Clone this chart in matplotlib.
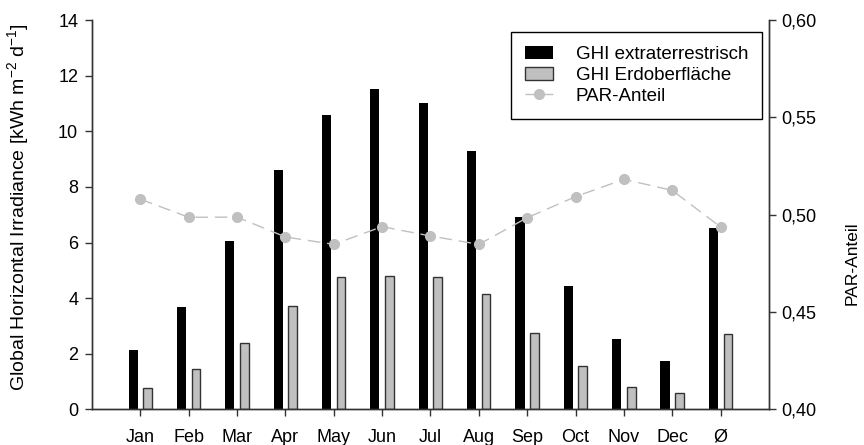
import matplotlib.pyplot as plt
import numpy as np
from matplotlib.ticker import FuncFormatter

plt.rcParams['font.family'] = ['Liberation Sans', 'DejaVu Sans']
plt.rcParams['mathtext.fontset'] = 'custom'
plt.rcParams['mathtext.rm'] = 'Liberation Sans'
plt.rcParams['mathtext.it'] = 'Liberation Sans'

months = ['Jan', 'Feb', 'Mar', 'Apr', 'May', 'Jun', 'Jul', 'Aug', 'Sep', 'Oct', 'Nov', 'Dec', 'Ø']
ghi_extra = [2.14, 3.68, 6.06, 8.6, 10.6, 11.51, 11.0, 9.28, 6.91, 4.44, 2.53, 1.73, 6.52]
ghi_surface = [0.76, 1.46, 2.38, 3.73, 4.75, 4.79, 4.75, 4.15, 2.74, 1.58, 0.82, 0.58, 2.70]
par_share = [0.508, 0.4987, 0.4988, 0.4886, 0.4848, 0.4939, 0.4891, 0.4848, 0.4985, 0.5093, 0.5182, 0.5125, 0.4937]

x = np.arange(len(months))

fig = plt.figure(figsize=(8.64, 4.45), dpi=100)
ax = fig.add_axes([0.1065, 0.0798, 0.7835, 0.8752])
ax2 = ax.twinx()

b1 = ax.bar(x - 0.15, ghi_extra, width=0.19, color='black', label='GHI extraterrestrisch')
b2 = ax.bar(x + 0.15, ghi_surface, width=0.18, color='#c0c0c0', edgecolor='#333333',
            linewidth=1, label='GHI Erdoberfläche')
l1, = ax2.plot(x, par_share, color='#c0c0c0', linestyle=(0, (9, 5)), linewidth=1,
               marker='o', markersize=7, markeredgecolor='#c0c0c0', label='PAR-Anteil')

ax.set_xlim(-1, 13)
ax.set_ylim(0, 14)
ax.set_yticks(range(0, 15, 2))
ax.set_xticks(x)
ax.set_xticklabels(months)
ax2.set_ylim(0.40, 0.60)
ax2.set_yticks([0.40, 0.45, 0.50, 0.55, 0.60])
ax2.yaxis.set_major_formatter(FuncFormatter(lambda v, p: ('%.2f' % v).replace('.', ',')))

for a in (ax, ax2):
    a.spines['top'].set_visible(False)
    for s in ('left', 'right', 'bottom'):
        a.spines[s].set_color('#333333')
        a.spines[s].set_linewidth(1)
    a.tick_params(direction='out', length=5, width=1, color='#333333', labelsize=13, pad=5)

ax2.tick_params(pad=4)
ax.tick_params(axis='x', pad=9)
ax.set_ylabel('Global Horizontal Irradiance [kWh m$^{-2}$ d$^{-1}$]', fontsize=14)
ax.yaxis.set_label_coords(-0.09, 0.52)
ax2.set_ylabel('PAR-Anteil', fontsize=12.5)
ax2.yaxis.set_label_coords(1.112, 0.375)

leg = ax2.legend([b1, b2, l1], ['GHI extraterrestrisch', 'GHI Erdoberfläche', 'PAR-Anteil'],
                 loc='upper right', bbox_to_anchor=(0.99, 0.969), fontsize=13.5,
                 frameon=True, fancybox=False, framealpha=1, edgecolor='black',
                 borderpad=0.75, labelspacing=0.2, handlelength=1.5, handletextpad=1.2,
                 borderaxespad=0)
leg.get_frame().set_linewidth(1)

fig.savefig('out.png', dpi=100)
